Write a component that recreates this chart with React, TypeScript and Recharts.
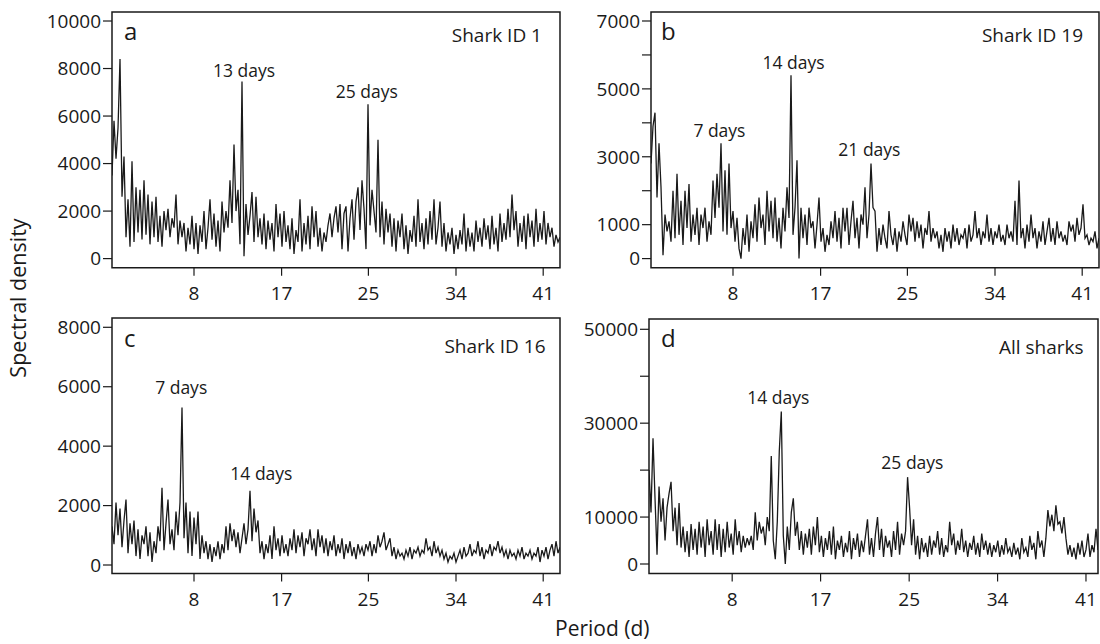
import { LineChart, Line, XAxis, YAxis, ReferenceArea, ReferenceDot } from "recharts";

// periodogram values, one per x step
const SHARK_1 = [
  3500, 5800, 4200, 5500, 8400, 2600, 4300, 900, 2500, 500, 4100, 700, 3000, 1100, 2900,
  800, 3300, 1000, 2700, 600, 2400, 900, 2600, 700, 1800, 500, 2000, 1200, 2100, 900,
  1700, 1300, 2700, 600, 1600, 900, 1500, 300, 1300, 600, 1800, 400, 1500, 200, 1400,
  700, 2000, 400, 1300, 2500, 800, 1900, 500, 1600, 300, 2400, 1100, 2000, 1300, 3300,
  1500, 4800, 2000, 2900, 600, 7450, 100, 2300, 1000, 1800, 2800, 700, 2600, 900, 1700,
  600, 1900, 400, 1600, 800, 1500, 300, 2300, 900, 1900, 500, 2000, 700, 1400, 400,
  1700, 200, 1200, 700, 2500, 300, 1500, 600, 1800, 400, 2200, 900, 2000, 500, 1300,
  300, 1100, 700, 1400, 1900, 900, 1700, 2200, 1100, 2300, 400, 1900, 2200, 300, 1700,
  2500, 800, 2400, 3000, 1200, 3300, 2100, 400, 6500, 1400, 2900, 2000, 1100, 5000, 900,
  2400, 600, 2100, 1100, 1900, 500, 1700, 300, 1600, 900, 1900, 400, 1400, 200, 1200,
  700, 1800, 500, 2500, 700, 1500, 400, 1700, 600, 2000, 800, 2500, 600, 1300, 2400,
  500, 1500, 300, 1100, 600, 1300, 200, 1000, 400, 1200, 600, 1900, 300, 1300, 500,
  1100, 300, 1600, 700, 1300, 500, 1700, 800, 1400, 400, 1800, 600, 1300, 300, 1900,
  700, 1500, 800, 2100, 900, 2700, 1200, 2000, 500, 1500, 700, 1800, 400, 1900, 900,
  1600, 500, 2100, 700, 1500, 800, 2000, 600, 1500, 900, 1300, 500, 1000, 700, 900,
];

const SHARK_19 = [
  2800, 3900, 4300, 1800, 3400, 2100, 100, 1300, 800, 1100, 500, 2000, 600, 2500, 700,
  1700, 400, 2000, 900, 2200, 500, 1300, 700, 1500, 400, 1300, 900, 1500, 500, 1100,
  700, 2300, 1200, 2500, 1500, 3400, 800, 2600, 700, 2800, 900, 1400, 500, 1200, 300,
  0, 900, 400, 1300, 200, 1100, 600, 1600, 500, 1800, 900, 1300, 400, 2000, 800,
  1700, 600, 1800, 500, 1200, 300, 1500, 800, 2100, 1200, 5400, 700, 1500, 2900, 0,
  1500, 600, 1300, 400, 1500, 900, 1100, 300, 1000, 1800, 500, 900, 200, 700, 400,
  1100, 600, 1400, 500, 1200, 300, 1500, 800, 1500, 400, 1100, 1700, 600, 1200, 300,
  1300, 1000, 2100, 600, 1300, 2800, 1500, 1400, 200, 900, 400, 1000, 600, 300, 1400,
  700, 400, 900, 200, 800, 500, 1100, 700, 400, 1300, 800, 1200, 500, 1100, 600,
  1000, 300, 900, 700, 1400, 500, 900, 600, 800, 300, 700, 200, 900, 500, 800,
  300, 1000, 500, 900, 400, 700, 600, 900, 300, 1000, 500, 700, 1400, 600, 900,
  400, 800, 600, 1300, 500, 900, 400, 800, 600, 1000, 500, 700, 400, 1000, 600,
  800, 500, 1700, 400, 2300, 600, 900, 300, 1000, 500, 1300, 600, 900, 300, 800,
  500, 1100, 400, 800, 1200, 500, 900, 400, 1100, 600, 800, 500, 700, 400, 1100,
  800, 1000, 500, 1200, 700, 900, 1600, 600, 700, 400, 600, 500, 800, 300, 600,
];

const SHARK_16 = [
  1300, 700, 2100, 1000, 1900, 600, 1500, 2200, 400, 1400, 700, 1500, 300, 1200, 200,
  1000, 700, 1300, 300, 1100, 100, 800, 400, 1300, 800, 2600, 500, 1400, 2200, 700,
  1200, 500, 1800, 1000, 2100, 5300, 900, 2100, 400, 1800, 300, 1600, 700, 1800, 200,
  1000, 400, 800, 200, 700, 100, 600, 300, 800, 200, 700, 400, 1300, 500, 1400,
  800, 1200, 600, 1100, 400, 900, 1400, 700, 1200, 2500, 800, 1900, 1100, 1500, 400,
  800, 200, 700, 400, 1000, 200, 1300, 500, 900, 300, 1000, 400, 700, 300, 900,
  500, 1200, 400, 1000, 600, 1100, 300, 900, 700, 1200, 500, 900, 300, 1200, 600,
  1000, 400, 900, 300, 800, 500, 1000, 300, 700, 400, 900, 200, 700, 400, 800,
  300, 600, 200, 700, 400, 600, 300, 700, 500, 800, 300, 700, 400, 1000, 600,
  800, 1100, 500, 700, 900, 300, 600, 200, 500, 300, 400, 200, 500, 300, 600,
  200, 500, 400, 600, 300, 500, 400, 900, 500, 600, 300, 800, 400, 600, 300,
  500, 200, 400, 100, 300, 200, 400, 100, 300, 500, 200, 600, 300, 400, 700,
  300, 500, 400, 800, 300, 600, 200, 500, 400, 700, 300, 600, 500, 800, 400,
  600, 300, 500, 200, 500, 300, 400, 200, 500, 300, 600, 200, 400, 300, 500,
  200, 400, 300, 600, 100, 500, 300, 600, 200, 500, 700, 300, 800, 400, 600,
];

const ALL_SHARKS = [
  20000, 11000, 26800, 14000, 2000, 16500, 9000, 14000, 5000, 12000, 15000, 17500, 7000, 12000, 4000,
  13000, 3500, 8000, 2500, 7000, 1500, 8500, 3000, 7500, 2000, 9000, 3500, 8000, 1500, 9500,
  4000, 7000, 2000, 9500, 3000, 8500, 1500, 7500, 2500, 9000, 3500, 6500, 2000, 9500, 4000,
  7000, 2500, 6000, 3500, 5500, 4000, 6000, 3000, 11000, 5000, 9000, 6500, 8000, 4000, 10000,
  7000, 23000, 5000, 1000, 9000, 24000, 32500, 6000, 0, 8000, 3000, 11000, 14000, 6000, 9000,
  3000, 7000, 2000, 6500, 3500, 7500, 2000, 8000, 4000, 10000, 2500, 6000, 1500, 5500, 3000,
  7000, 2000, 8000, 1000, 5000, 3000, 6000, 1500, 4500, 2500, 7000, 1000, 5500, 3000, 6500,
  1500, 5000, 2500, 6000, 9500, 2000, 5500, 1500, 6500, 10000, 3000, 7500, 1500, 6000, 3500,
  5000, 1500, 7000, 3000, 9000, 2000, 6500, 4000, 7000, 18500, 12000, 4000, 9500, 2000, 6000,
  1000, 5500, 2500, 4500, 1500, 6000, 2000, 5000, 3500, 7000, 2000, 5500, 1500, 4000, 2500,
  9000, 4000, 6500, 2000, 5000, 3000, 7500, 2500, 5000, 1500, 4500, 3000, 6000, 2000, 4500,
  1500, 6500, 3000, 5000, 2000, 4500, 1500, 4000, 2500, 5000, 1500, 4000, 2000, 5500, 2500,
  3500, 1500, 4500, 2000, 3500, 1000, 5500, 2500, 3500, 1500, 6000, 3000, 4500, 1000, 7000,
  3500, 5000, 1500, 5500, 11500, 8000, 10500, 7000, 12500, 8500, 9000, 6500, 10000, 5500, 2000,
  4000, 1500, 3500, 1000, 4500, 2000, 5000, 1500, 3000, 6500, 1500, 4000, 2500, 7500, 3000,
];

const PERIOD_LABELS = ["8", "17", "25", "34", "41"];
const PERIOD_TICKS = [41, 84.8, 128.2, 172, 215.6];
const PERIOD_TICKS_D = [41.5, 85.6, 129.8, 173.9, 218];

const TICKS_A = [0, 2000, 4000, 6000, 8000, 10000];
const TICKS_B = [0, 1000, 2000, 3000, 4000, 5000, 6000, 7000];
const LABELLED_B = [0, 1000, 3000, 5000, 7000];
const TICKS_C = [0, 2000, 4000, 6000, 8000];
const TICKS_D = [0, 10000, 20000, 30000, 40000, 50000];
const LABELLED_D = [0, 10000, 30000, 50000];

const NOTES_A = [
  { text: "13 days", i: 66, v: 7925 },
  { text: "25 days", i: 127.4, v: 7000 },
];
const NOTES_B = [
  { text: "7 days", i: 34.2, v: 3780 },
  { text: "14 days", i: 71.3, v: 5770 },
  { text: "21 days", i: 109.2, v: 3220 },
];
const NOTES_C = [
  { text: "7 days", i: 34.6, v: 5970 },
  { text: "14 days", i: 74.7, v: 3060 },
];
const NOTES_D = [
  { text: "14 days", i: 64.5, v: 35470 },
  { text: "25 days", i: 131.4, v: 21520 },
];

const INK = "#1a1a1a";
const FONT = "'Open Sans', 'Noto Sans', sans-serif";
const YW = 70;
const XH = 40;
const PAD = 4;

function Panel({ values, box, yDomain, yTicks, yLabelled, xTicks, notes }) {
  const data = values.map((v, i) => ({ i, v }));
  const last = values.length - 1;
  const tickStyle = { fontSize: 19, fill: INK, fontFamily: FONT };
  return (
    <div style={{ position: "absolute", left: box.left - YW, top: box.top - PAD }}>
      <LineChart
        width={YW + box.width + PAD}
        height={PAD + box.height + XH}
        data={data}
        margin={{ top: PAD, right: PAD, bottom: 0, left: 0 }}
      >
        <XAxis
          type="number"
          dataKey="i"
          domain={[0, last]}
          ticks={xTicks}
          interval={0}
          allowDataOverflow
          tickFormatter={(v) => PERIOD_LABELS[xTicks.indexOf(v)]}
          axisLine={false}
          tickLine={{ stroke: INK, strokeWidth: 1.2 }}
          tickSize={8}
          tickMargin={11}
          height={XH}
          tick={tickStyle}
        />
        <YAxis
          type="number"
          domain={yDomain}
          ticks={yTicks}
          interval={0}
          allowDataOverflow
          tickFormatter={(v) => (yLabelled.includes(v) ? String(v) : "")}
          axisLine={false}
          tickLine={{ stroke: INK, strokeWidth: 1.2 }}
          tickSize={9}
          tickMargin={2}
          width={YW}
          tick={tickStyle}
        />
        <Line
          type="linear"
          dataKey="v"
          stroke={INK}
          strokeWidth={1.3}
          strokeLinejoin="miter"
          dot={false}
          isAnimationActive={false}
        />
        <ReferenceArea
          x1={0}
          x2={last}
          y1={yDomain[0]}
          y2={yDomain[1]}
          fill="none"
          fillOpacity={0}
          stroke={INK}
          strokeWidth={1.5}
          ifOverflow="visible"
        />
        {notes.map((n) => (
          <ReferenceDot
            key={n.text}
            x={n.i}
            y={n.v}
            r={0}
            fill="none"
            stroke="none"
            label={{ value: n.text, position: "center", fill: INK, fontSize: 17.5, fontFamily: FONT }}
          />
        ))}
      </LineChart>
    </div>
  );
}

const text = (extra) => ({
  position: "absolute",
  color: INK,
  lineHeight: 1,
  whiteSpace: "nowrap",
  fontFamily: FONT,
  ...extra,
});

export default function App() {
  return (
    <div
      style={{
        position: "absolute",
        left: 0,
        top: 0,
        width: 1100,
        height: 644,
        background: "#fff",
        fontFamily: FONT,
        overflow: "hidden",
      }}
    >
      <Panel
        values={SHARK_1}
        box={{ left: 112, top: 11.7, width: 448, height: 255.8 }}
        yDomain={[-387, 10379]}
        yTicks={TICKS_A}
        yLabelled={TICKS_A}
        xTicks={PERIOD_TICKS}
        notes={NOTES_A}
      />
      <Panel
        values={SHARK_19}
        box={{ left: 650.5, top: 11.7, width: 448, height: 255.8 }}
        yDomain={[-271, 7265]}
        yTicks={TICKS_B}
        yLabelled={LABELLED_B}
        xTicks={PERIOD_TICKS}
        notes={NOTES_B}
      />
      <Panel
        values={SHARK_16}
        box={{ left: 112, top: 318, width: 448, height: 255.5 }}
        yDomain={[-286, 8313]}
        yTicks={TICKS_C}
        yLabelled={TICKS_C}
        xTicks={PERIOD_TICKS}
        notes={NOTES_C}
      />
      <Panel
        values={ALL_SHARKS}
        box={{ left: 649, top: 319, width: 449, height: 254.5 }}
        yDomain={[-2024, 52194]}
        yTicks={TICKS_D}
        yLabelled={LABELLED_D}
        xTicks={PERIOD_TICKS_D}
        notes={NOTES_D}
      />

      <div style={text({ left: 124, top: 18.5, fontSize: 24 })}>a</div>
      <div style={text({ left: 661, top: 18.5, fontSize: 24 })}>b</div>
      <div style={text({ left: 124, top: 326, fontSize: 24 })}>c</div>
      <div style={text({ left: 661, top: 325.5, fontSize: 24 })}>d</div>

      <div style={text({ right: 1100 - 542, top: 26, fontSize: 19 })}>Shark ID 1</div>
      <div style={text({ right: 1100 - 1083, top: 26, fontSize: 19 })}>Shark ID 19</div>
      <div style={text({ right: 1100 - 545.5, top: 337, fontSize: 19 })}>Shark ID 16</div>
      <div style={text({ right: 1100 - 1083.5, top: 338, fontSize: 19 })}>All sharks</div>

      <div
        style={text({
          left: 18,
          top: 298,
          fontSize: 21.5,
          transform: "translate(-50%, -50%) rotate(-90deg)",
        })}
      >
        Spectral density
      </div>
      <div style={text({ left: 555, top: 618, fontSize: 21 })}>Period (d)</div>
    </div>
  );
}
